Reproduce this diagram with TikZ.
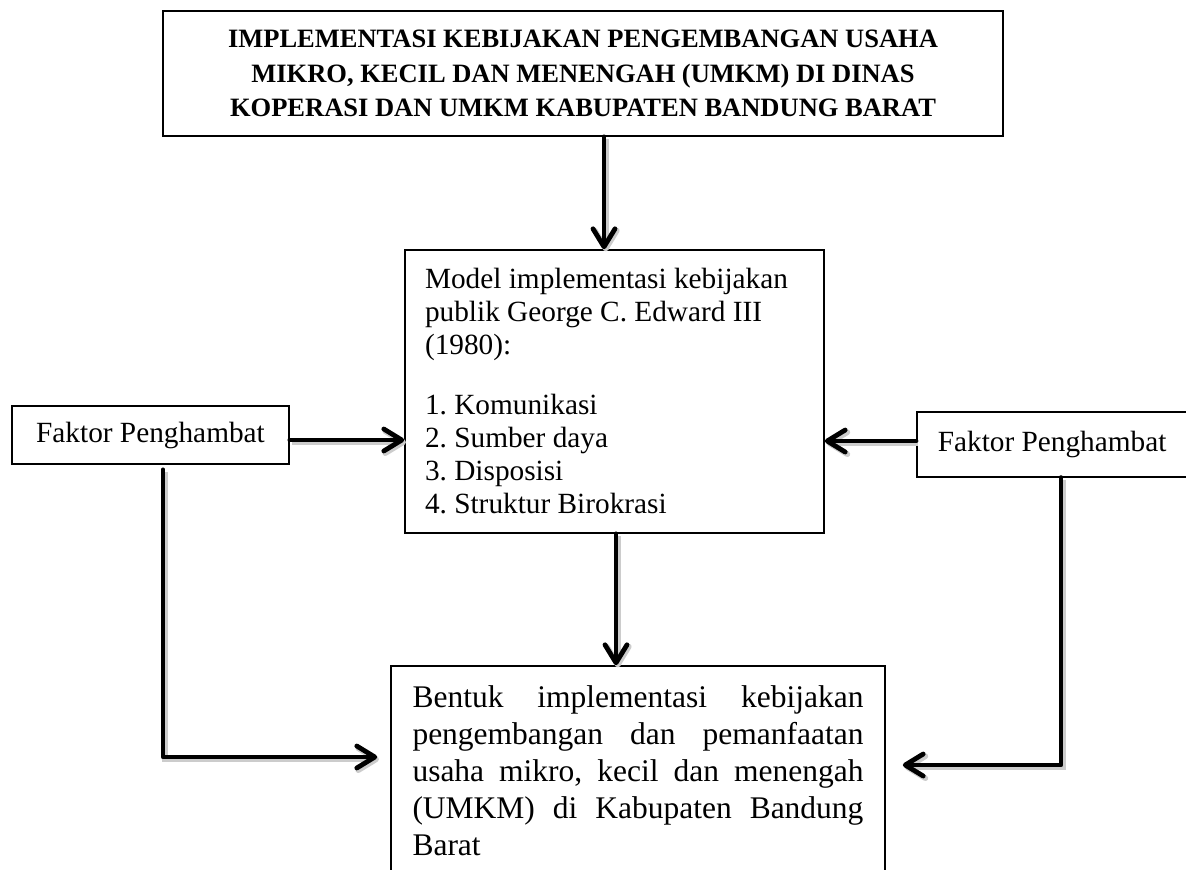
\documentclass[tikz,border=0pt]{standalone}
\usepackage{fontspec}
\setmainfont{Liberation Serif}
\usetikzlibrary{arrows.meta,calc}
\frenchspacing
\begin{document}
\begin{tikzpicture}[x=0.5pt,y=-0.5pt,
  box/.style={draw, line width=0.8pt, inner sep=0pt},
  arr/.style={line width=2.4pt, line cap=round, line join=round,
    -{Straight Barb[length=9pt,width=11pt,line cap=round,line join=round]},
    preaction={draw=black!20, line width=2.8pt, transform canvas={shift={(0.9pt,-1.1pt)}}}},
  bodyfont/.style={font=\fontsize{14.65pt}{16.5pt}\selectfont}]
\useasboundingbox (0,0) rectangle (1186,869);
\fill[white] (0,0) rectangle (1186,869);

\node[box, minimum width=420pt, minimum height=62.5pt, align=center,
  font=\fontsize{13.25pt}{17.25pt}\selectfont\bfseries] (top) at (583,73.5)
  {IMPLEMENTASI KEBIJAKAN PENGEMBANGAN USAHA\\
   MIKRO, KECIL DAN MENENGAH (UMKM) DI DINAS\\
   KOPERASI DAN UMKM KABUPATEN BANDUNG BARAT};

\node[box, bodyfont, minimum width=209.5pt, minimum height=141.5pt,
  text width=189.5pt, align=flush left] (mid) at (614.5,391.5)
  {Model implementasi kebijakan\\
   publik George C. Edward III\\
   (1980):\\[13.5pt]
   1. Komunikasi\\
   2. Sumber daya\\
   3. Disposisi\\
   4. Struktur Birokrasi};

\node[box, bodyfont, minimum width=138.5pt, minimum height=29pt] (lb) at (150.5,435)
  {Faktor Penghambat};

\node[box, bodyfont, anchor=north west, minimum width=165pt, minimum height=32.5pt,
  inner xsep=10.5pt, text width=144pt, align=flush left] (rb) at (916,411)
  {Faktor Penghambat};

\node[box, minimum width=247pt, minimum height=105pt, text width=225.5pt,
  align=justify, font=\fontsize{15.75pt}{18.5pt}\selectfont] (bot) at (638,771)
  {\hyphenpenalty=10000 Bentuk implementasi kebijakan\linebreak
   pengembangan dan pemanfaatan\linebreak
   usaha mikro, kecil dan menengah\linebreak
   (UMKM) di Kabupaten Bandung\linebreak
   Barat};

\coordinate (ax1) at (604,0);
\coordinate (ax2) at (616,0);
\coordinate (ay1) at (0,440);
\coordinate (ay2) at (0,441);
\coordinate (lx) at (163,757);
\coordinate (rx) at (1061,765);

\draw[arr] (top.south -| ax1) -- (mid.north -| ax1);
\draw[arr] (mid.south -| ax2) -- (bot.north -| ax2);
\draw[arr] (lb.east |- ay1) -- (mid.west |- ay1);
\draw[arr] (rb.west |- ay2) -- (mid.east |- ay2);
\draw[arr, shorten >=6.5pt] ([yshift=-2.5pt]lb.south -| lx) |- (bot.west |- lx);
\draw[arr, shorten >=8.5pt] (rb.south -| rx) |- (bot.east |- rx);
\end{tikzpicture}
\end{document}
